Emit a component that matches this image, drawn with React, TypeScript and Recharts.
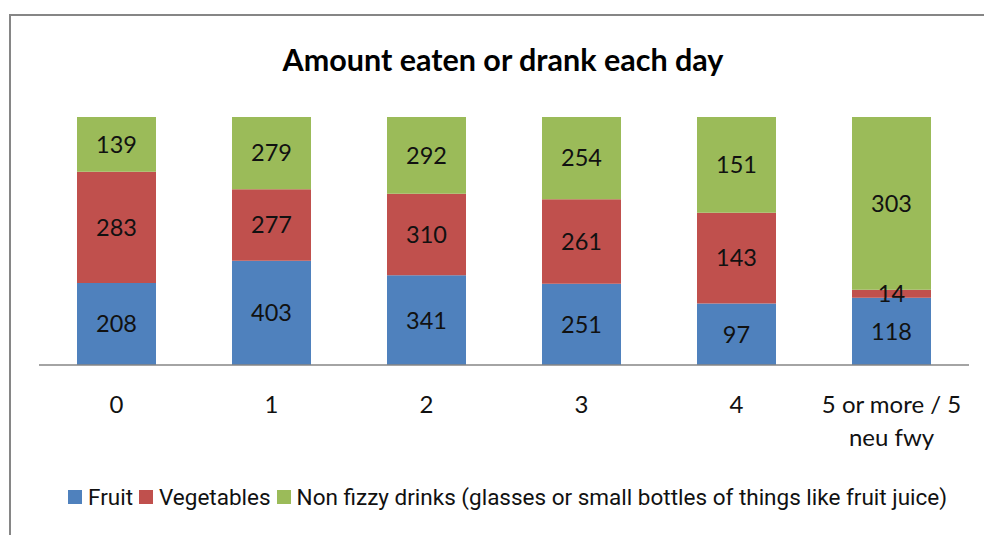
import React from "react";
import { BarChart, Bar, XAxis, YAxis, LabelList } from "recharts";

const categories = ["0", "1", "2", "3", "4", "5 or more / 5 neu fwy"];
const fruit = [208, 403, 341, 251, 97, 118];
const vegetables = [283, 277, 310, 261, 143, 14];
const drinks = [139, 279, 292, 254, 151, 303];

const seriesNames = {
  fruit: "Fruit",
  vegetables: "Vegetables",
  drinks: "Non fizzy drinks (glasses or small bottles of things like fruit juice)",
};

const colors = { fruit: "#4F81BD", vegetables: "#C0504D", drinks: "#9BBB59" };

const data = categories.map((c, i) => ({
  name: c,
  fruit: fruit[i],
  vegetables: vegetables[i],
  drinks: drinks[i],
}));

const FONT = "Lato, 'Open Sans', sans-serif";

function CategoryTick(props: any) {
  const { x, y, payload } = props;
  const label: string = payload.value;
  const lines = label.length > 8 ? ["5 or more / 5", "neu fwy"] : [label];
  return (
    <g transform={`translate(${x},${y})`}>
      {lines.map((l, i) => (
        <text
          key={i}
          x={0}
          y={40 + i * 33}
          textAnchor="middle"
          fontFamily={FONT}
          fontSize={24}
          fill="#111"
        >
          {l}
        </text>
      ))}
    </g>
  );
}

function LegendBox() {
  const keys: (keyof typeof seriesNames)[] = ["fruit", "vegetables", "drinks"];
  return (
    <div
      style={{
        position: "absolute",
        left: 68,
        top: 484,
        width: 900,
        display: "flex",
        alignItems: "center",
        fontFamily: "Roboto, sans-serif",
        fontSize: 22.5,
        color: "#111",
        gap: 6,
        whiteSpace: "nowrap",
      }}
    >
      {keys.map((k) => (
        <span key={k} style={{ display: "flex", alignItems: "center" }}>
          <span
            style={{
              display: "inline-block",
              width: 14,
              height: 14,
              background: colors[k],
              marginRight: 6,
            }}
          />
          {seriesNames[k]}
        </span>
      ))}
    </div>
  );
}

export default function App() {
  return (
    <div
      style={{
        position: "absolute",
        left: 0,
        top: 0,
        width: 984,
        height: 535,
        background: "#fff",
        overflow: "hidden",
      }}
    >
      <div
        style={{
          position: "absolute",
          left: 9,
          top: 14,
          width: 990,
          height: 540,
          border: "2px solid #868686",
          boxSizing: "border-box",
        }}
      />
      <div
        style={{
          position: "absolute",
          left: 0,
          top: 41,
          width: 1006,
          textAlign: "center",
          fontFamily: FONT,
          fontWeight: 700,
          fontSize: 30.5,
          color: "#000",
        }}
      >
        Amount eaten or drank each day
      </div>
      <div style={{ position: "absolute", left: 0, top: 0 }}>
        <BarChart
          width={984}
          height={535}
          data={data}
          stackOffset="expand"
          margin={{ top: 117, right: 15, bottom: 169, left: 39 }}
        >
          <XAxis
            dataKey="name"
            height={1}
            axisLine={{ stroke: "#868686", strokeWidth: 1.5 }}
            tickLine={false}
            interval={0}
            tick={<CategoryTick />}
          />
          <YAxis hide domain={[0, 1]} />
          {(["fruit", "vegetables", "drinks"] as const).map((k) => (
            <Bar
              key={k}
              dataKey={k}
              name={seriesNames[k]}
              stackId="a"
              fill={colors[k]}
              barSize={79}
              isAnimationActive={false}
            >
              <LabelList
                dataKey={k}
                position="center"
                fontFamily={FONT}
                fontSize={23.5}
                fill="#111"
              />
            </Bar>
          ))}
        </BarChart>
      </div>
      <LegendBox />
    </div>
  );
}
